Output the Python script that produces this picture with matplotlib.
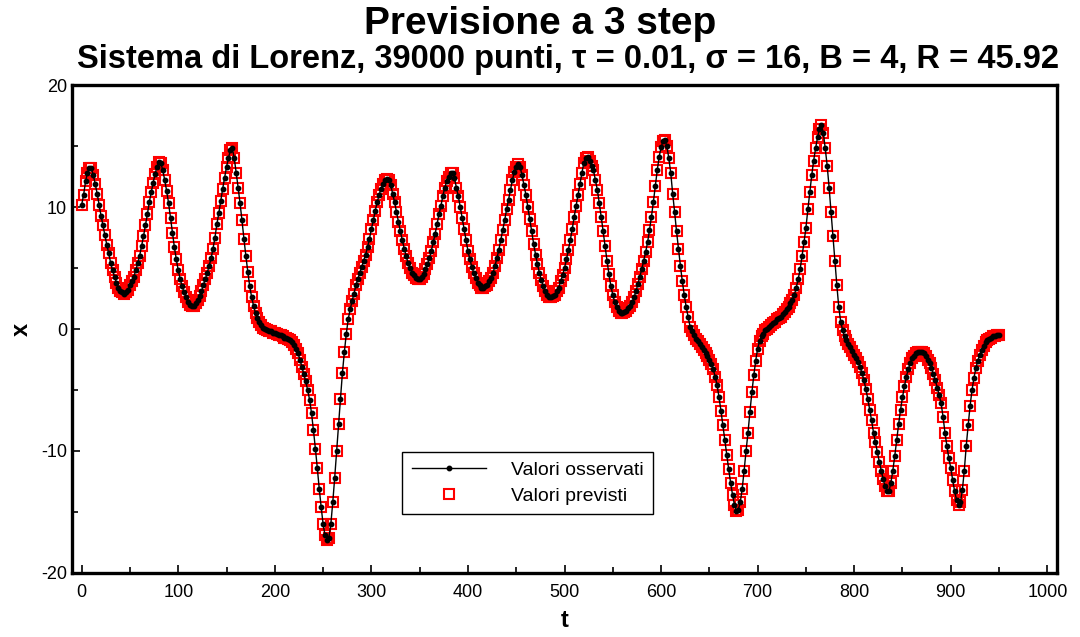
import matplotlib
matplotlib.use('Agg')
import matplotlib.pyplot as plt
from matplotlib.ticker import MultipleLocator
import numpy as np

plt.rcParams['font.family'] = ['Liberation Sans', 'DejaVu Sans']
plt.rcParams['axes.unicode_minus'] = False

# valori, passo 2 in t (0 ... 950)
x_osservati = [
    10.2, 11.0, 12.1, 12.8, 13.2, 13.2, 12.6, 11.9, 11.1, 10.2,          # 0
    9.3, 8.5, 7.7, 6.9, 6.2, 5.4, 4.8, 4.3, 3.8, 3.4,                    # 20
    3.1, 3.0, 2.9, 3.0, 3.2, 3.6, 3.9, 4.3, 4.8, 5.4,                    # 40
    6.0, 6.8, 7.6, 8.5, 9.4, 10.4, 11.2, 12.0, 12.7, 13.3,               # 60
    13.7, 13.6, 13.0, 12.2, 11.3, 10.3, 9.1, 7.9, 6.7, 5.7,              # 80
    4.8, 4.1, 3.5, 3.0, 2.6, 2.2, 2.0, 1.9, 1.9, 2.1,                    # 100
    2.4, 2.7, 3.1, 3.6, 4.1, 4.6, 5.2, 5.8, 6.6, 7.5,                    # 120
    8.6, 9.5, 10.5, 11.5, 12.4, 13.3, 14.0, 14.7, 14.8, 14.0,            # 140
    12.8, 11.6, 10.3, 8.9, 7.4, 6.0, 4.7, 3.5, 2.6, 1.9,                 # 160
    1.3, 0.9, 0.6, 0.3, 0.1, 0.0, -0.1, -0.2, -0.2, -0.3,                # 180
    -0.3, -0.4, -0.5, -0.5, -0.6, -0.7, -0.7, -0.8, -0.9, -1.1,          # 200
    -1.3, -1.6, -2.0, -2.5, -3.1, -3.7, -4.3, -5.0, -5.8, -6.9,          # 220
    -8.3, -9.8, -11.4, -13.1, -14.6, -16.0, -16.9, -17.3, -17.1, -16.0,  # 240
    -14.2, -12.2, -10.0, -7.8, -5.7, -3.6, -1.9, -0.4, 0.8, 1.6,         # 260
    2.3, 2.9, 3.6, 4.1, 4.6, 5.1, 5.6, 6.1, 6.7, 7.4,                    # 280
    8.2, 8.9, 9.7, 10.4, 11.0, 11.5, 11.9, 12.2, 12.3, 12.2,             # 300
    11.8, 11.1, 10.4, 9.6, 8.8, 8.0, 7.3, 6.6, 6.0, 5.4,                 # 320
    5.0, 4.6, 4.4, 4.2, 4.1, 4.1, 4.3, 4.5, 4.9, 5.3,                    # 340
    5.8, 6.4, 7.1, 7.8, 8.6, 9.4, 10.1, 10.9, 11.6, 12.1,                # 360
    12.5, 12.8, 12.8, 12.4, 11.6, 10.9, 10.0, 9.1, 8.2, 7.3,             # 380
    6.4, 5.7, 5.1, 4.6, 4.2, 3.8, 3.6, 3.4, 3.4, 3.5,                    # 400
    3.6, 3.9, 4.2, 4.6, 5.2, 5.8, 6.5, 7.3, 8.1, 8.9,                    # 420
    9.8, 10.6, 11.4, 12.2, 12.9, 13.3, 13.5, 13.3, 12.6, 11.8,           # 440
    11.0, 10.0, 9.0, 8.0, 7.0, 6.1, 5.3, 4.6, 4.0, 3.5,                  # 460
    3.1, 2.8, 2.6, 2.6, 2.7, 2.8, 3.1, 3.4, 3.9, 4.4,                    # 480
    5.0, 5.7, 6.5, 7.3, 8.2, 9.2, 10.1, 11.0, 11.9, 12.8,                # 500
    13.6, 14.0, 14.1, 13.8, 13.4, 13.0, 12.2, 11.4, 10.3, 9.2,           # 520
    8.0, 6.8, 5.6, 4.5, 3.5, 2.8, 2.2, 1.8, 1.5, 1.3,                    # 540
    1.3, 1.4, 1.5, 1.7, 1.9, 2.2, 2.6, 3.1, 3.7, 4.3,                    # 560
    4.9, 5.6, 6.3, 7.1, 8.1, 9.2, 10.4, 11.7, 13.0, 14.1,                # 580
    14.9, 15.4, 15.5, 15.0, 14.0, 12.8, 11.1, 9.6, 8.0, 6.6,             # 600
    5.2, 3.9, 2.8, 1.8, 1.0, 0.2, -0.2, -0.5, -0.8, -1.0,                # 620
    -1.2, -1.5, -1.7, -2.0, -2.2, -2.5, -2.9, -3.3, -3.9, -4.6,          # 640
    -5.6, -6.7, -7.9, -9.1, -10.3, -11.5, -12.6, -13.6, -14.4, -14.9,    # 660
    -14.8, -14.2, -13.1, -11.6, -10.0, -8.5, -6.8, -5.2, -3.8, -2.6,     # 680
    -1.6, -1.0, -0.6, -0.4, -0.1, 0.0, 0.2, 0.3, 0.5, 0.6,               # 700
    0.8, 0.9, 1.0, 1.2, 1.4, 1.6, 1.8, 2.1, 2.4, 2.8,                    # 720
    3.4, 4.1, 4.9, 6.0, 7.1, 8.3, 9.8, 11.2, 12.6, 13.8,                 # 740
    14.8, 15.7, 16.4, 16.7, 16.1, 14.8, 13.4, 11.6, 9.6, 7.6,            # 760
    5.6, 3.6, 1.8, 0.6, -0.1, -0.6, -0.9, -1.2, -1.5, -1.8,              # 780
    -2.1, -2.4, -2.7, -3.1, -3.6, -4.2, -4.9, -5.7, -6.6, -7.5,          # 800
    -8.5, -9.3, -10.1, -10.9, -11.6, -12.3, -12.9, -13.3, -13.3, -12.6,  # 820
    -11.6, -10.4, -9.1, -7.8, -6.6, -5.6, -4.7, -3.9, -3.3, -2.8,        # 840
    -2.4, -2.2, -2.0, -1.9, -1.9, -1.9, -2.0, -2.2, -2.5, -2.8,          # 860
    -3.2, -3.7, -4.2, -4.8, -5.4, -6.1, -7.2, -8.5, -9.6, -10.6,         # 880
    -11.4, -12.4, -13.3, -14.0, -14.4, -14.2, -13.2, -11.6, -9.6, -7.9,  # 900
    -6.3, -5.0, -4.0, -3.2, -2.6, -2.1, -1.7, -1.4, -1.1, -0.9,          # 920
    -0.8, -0.7, -0.6, -0.6, -0.5, -0.5,                                  # 940-950
]
t_values = list(range(0, 2 * len(x_osservati), 2))
x_previsti = x_osservati  # a occhio coincidono con gli osservati

fig = plt.figure(figsize=(10.8, 6.37), dpi=100)
ax = fig.add_axes([0.0667, 0.1005, 0.912, 0.766])

ax.plot(t_values, x_previsti, linestyle='none', marker='s', markersize=7.5,
        markerfacecolor='none', markeredgecolor='#ff0000', markeredgewidth=1.5,
        label='Valori previsti', zorder=2)
ax.plot(t_values, x_osservati, color='black', linewidth=1.0, marker='o',
        markersize=3.2, label='Valori osservati', zorder=3)

ax.set_xlim(-10, 1010)
ax.set_ylim(-20, 20)
ax.xaxis.set_major_locator(MultipleLocator(100))
ax.xaxis.set_minor_locator(MultipleLocator(50))
ax.yaxis.set_major_locator(MultipleLocator(10))
ax.yaxis.set_minor_locator(MultipleLocator(5))
ax.tick_params(which='both', direction='in', top=False, right=False, labelsize=13, width=1.2)
ax.tick_params(axis='x', pad=8)
ax.tick_params(which='major', length=6)
ax.tick_params(which='minor', length=4)
for sp in ax.spines.values():
    sp.set_linewidth(2.4)

ax.set_xlabel('t', fontsize=17, fontweight='bold', labelpad=6)
ax.set_ylabel('x', fontsize=17, fontweight='bold', labelpad=6)

handles, labels = ax.get_legend_handles_labels()
leg = ax.legend(handles[::-1], labels[::-1], loc='upper left', bbox_to_anchor=(0.335, 0.248),
                borderaxespad=0, fontsize=14, handlelength=3.8, fancybox=False,
                framealpha=1, edgecolor='black', borderpad=0.5, labelspacing=0.4,
                handletextpad=1.3)
leg.get_frame().set_linewidth(1.0)

fig.text(0.5, 0.962, 'Previsione a 3 step', ha='center', va='center', fontsize=28, fontweight='bold')
fig.text(0.526, 0.906, 'Sistema di Lorenz, 39000 punti, \u03c4 = 0.01, \u03c3 = 16, B = 4, R = 45.92',
         ha='center', va='center', fontsize=23.5, fontweight='bold')

fig.savefig('out.png', dpi=100)
